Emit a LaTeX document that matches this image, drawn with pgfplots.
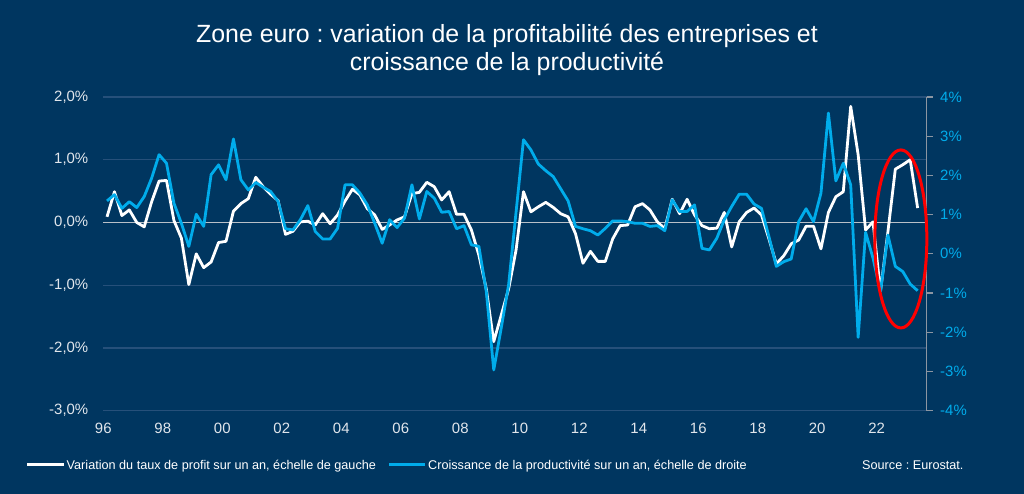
\documentclass[border=0pt]{standalone}
\usepackage{pgfplots}
\usepackage{pgfplotstable}
\pgfplotsset{compat=1.18}
\usepackage{fontspec}
\setmainfont{Liberation Sans}
\frenchspacing
\definecolor{bg}{RGB}{0,54,96}
\definecolor{lblue}{RGB}{0,172,235}
\definecolor{gridc}{RGB}{38,80,122}
\definecolor{zeroc}{RGB}{185,192,200}
\definecolor{tickc}{RGB}{225,230,236}
\definecolor{raxis}{RGB}{140,150,162}
\pgfplotstableread{
x w b
1996.125 0.09 1.35
1996.375 0.49 1.51
1996.625 0.11 1.16
1996.875 0.20 1.33
1997.125 0.00 1.18
1997.375 -0.07 1.46
1997.625 0.33 1.93
1997.875 0.66 2.53
1998.125 0.67 2.31
1998.375 0.03 1.29
1998.625 -0.25 0.78
1998.875 -0.99 0.19
1999.125 -0.50 1.01
1999.375 -0.72 0.70
1999.625 -0.63 2.02
1999.875 -0.32 2.27
2000.125 -0.30 1.89
2000.375 0.18 2.93
2000.625 0.30 1.89
2000.875 0.38 1.63
2001.125 0.72 1.82
2001.375 0.57 1.70
2001.625 0.45 1.59
2001.875 0.35 1.34
2002.125 -0.19 0.64
2002.375 -0.14 0.61
2002.625 0.01 0.87
2002.875 0.02 1.23
2003.125 -0.04 0.57
2003.375 0.14 0.38
2003.625 -0.02 0.38
2003.875 0.12 0.65
2004.125 0.34 1.76
2004.375 0.53 1.76
2004.625 0.44 1.55
2004.875 0.22 1.25
2005.125 0.12 0.78
2005.375 -0.11 0.27
2005.625 -0.04 0.87
2005.875 0.04 0.67
2006.125 0.09 0.91
2006.375 0.46 1.76
2006.625 0.48 0.89
2006.875 0.64 1.59
2007.125 0.57 1.42
2007.375 0.36 1.06
2007.625 0.49 1.08
2007.875 0.13 0.64
2008.125 0.13 0.72
2008.375 -0.12 0.23
2008.625 -0.52 0.19
2008.875 -1.06 -0.96
2009.125 -1.90 -2.96
2009.375 -1.48 -1.90
2009.625 -1.06 -0.79
2009.875 -0.44 1.06
2010.125 0.49 2.91
2010.375 0.17 2.65
2010.625 0.25 2.29
2010.875 0.32 2.12
2011.125 0.24 1.97
2011.375 0.14 1.66
2011.625 0.09 1.35
2011.875 -0.18 0.70
2012.125 -0.65 0.64
2012.375 -0.46 0.59
2012.625 -0.62 0.48
2012.875 -0.62 0.65
2013.125 -0.26 0.84
2013.375 -0.05 0.84
2013.625 -0.04 0.82
2013.875 0.25 0.78
2014.125 0.30 0.78
2014.375 0.20 0.70
2014.625 0.01 0.72
2014.875 -0.10 0.59
2015.125 0.37 1.38
2015.375 0.14 1.08
2015.625 0.37 1.08
2015.875 0.12 1.25
2016.125 -0.05 0.14
2016.375 -0.10 0.10
2016.625 -0.09 0.40
2016.875 0.16 0.87
2017.125 -0.39 1.21
2017.375 0.01 1.52
2017.625 0.16 1.52
2017.875 0.23 1.27
2018.125 0.12 1.16
2018.375 -0.26 0.44
2018.625 -0.66 -0.32
2018.875 -0.53 -0.20
2019.125 -0.34 -0.13
2019.375 -0.28 0.82
2019.625 -0.06 1.15
2019.875 -0.06 0.82
2020.125 -0.42 1.55
2020.375 0.16 3.59
2020.625 0.41 1.86
2020.875 0.49 2.31
2021.125 1.85 1.76
2021.375 1.08 -2.13
2021.625 -0.12 0.55
2021.875 0.01 -0.11
2022.125 -1.10 -0.96
2022.375 -0.15 0.48
2022.625 0.85 -0.32
2022.875 0.92 -0.45
2023.125 1.00 -0.77
2023.375 0.23 -0.94
}\data
\begin{document}
\frenchspacing
\begin{tikzpicture}[x=1bp,y=1bp]
\fill[bg] (0,0) rectangle (1024,494);
% title
\node[anchor=base, text=white, font=\fontsize{25}{30}\selectfont, inner sep=0] at (507,451) {Zone euro : variation de la profitabilité des entreprises et};
\node[anchor=base, text=white, font=\fontsize{25}{30}\selectfont, inner sep=0] at (507,423) {croissance de la productivité};
% left axis
\begin{axis}[at={(103.3bp,83.3bp)}, anchor=south west, scale only axis,
  width=823.4bp, height=313.7bp,
  xmin=1996, xmax=2023.68, ymin=-3, ymax=2,
  axis line style={draw=none},
  major tick length=0pt,
  xtick={1996,1998,...,2022},
  xticklabels={96,98,00,02,04,06,08,10,12,14,16,18,20,22},
  ytick={-3,-2,-1,0,1,2},
  yticklabels={{-3,0\%},{-2,0\%},{-1,0\%},{0,0\%},{1,0\%},{2,0\%}},
  ymajorgrids, grid style={draw=gridc, line width=1.2bp},
  ticklabel style={font=\fontsize{15}{18}\selectfont, text=tickc},
  xticklabel style={yshift=-9bp},
  yticklabel style={xshift=-11.5bp},
  clip=false,
]
\draw[zeroc, line width=1.3bp] (axis cs:1996,0) -- (axis cs:2023.68,0);
\addplot[white, line width=2.8bp, line join=round, mark=none] table[x=x, y=w] {\data};
\end{axis}
% right axis
\begin{axis}[at={(103.3bp,83.3bp)}, anchor=south west, scale only axis,
  width=823.4bp, height=313.7bp,
  xmin=1996, xmax=2023.68, ymin=-4, ymax=4,
  axis x line=none, axis y line*=right,
  axis line style={draw=raxis, line width=1.2bp},
  y axis line style={-},
  tick align=outside, major tick length=6bp,
  tick style={draw=raxis, line width=1.2bp},
  ytick={-4,-3,...,4},
  yticklabels={-4\%,-3\%,-2\%,-1\%,0\%,1\%,2\%,3\%,4\%},
  yticklabel style={font=\fontsize{15}{18}\selectfont, text=lblue, xshift=4bp},
  clip=false,
]
\addplot[lblue, line width=2.8bp, line join=round, mark=none] table[x=x, y=b] {\data};
\draw[red, line width=3bp] (axis cs:2022.81,0.38) ellipse [x radius=26bp, y radius=89bp];
\end{axis}
% legend
\draw[white, line width=3bp] (27,29) -- (64,29);
\node[anchor=base west, text=white, font=\fontsize{12.7}{15}\selectfont, inner sep=0] at (66.5,24.5) {Variation du taux de profit sur un an, échelle de gauche};
\draw[lblue, line width=3bp] (389,29) -- (425,29);
\node[anchor=base west, text=white, font=\fontsize{12.7}{15}\selectfont, inner sep=0] at (428,24.5) {Croissance de la productivité sur un an, échelle de droite};
\node[anchor=base west, text=white, font=\fontsize{12.7}{15}\selectfont, inner sep=0] at (862,24.5) {Source : Eurostat.};
\pgfresetboundingbox
\path (0,0) rectangle (1024,494);
\end{tikzpicture}
\end{document}
